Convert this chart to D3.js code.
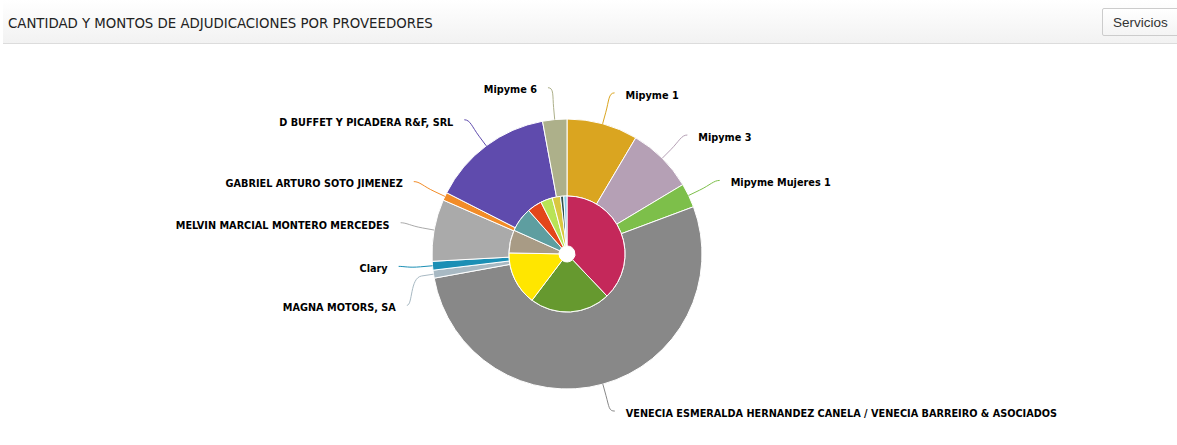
<!DOCTYPE html>
<html>
<head>
<meta charset="utf-8">
<script src="https://cdn.jsdelivr.net/npm/d3@7"></script>
<style>
  body { margin: 0; background: #fff; font-family: "Liberation Sans", Arial, sans-serif; }
  .head {
    position: absolute; left: 3px; top: 0; width: 1174px; height: 43px;
    background: linear-gradient(#ffffff, #f2f2f2);
    border-bottom: 1px solid #dcdcdc;
  }
  .head .title {
    position: absolute; left: 5px; top: 14px; font-size: 14.8px; color: #222;
    font-family: "Liberation Sans Narrow", "Arial Narrow", "DejaVu Sans Condensed", sans-serif;
  }
  .head .btn {
    position: absolute; left: 1099px; top: 8px; width: 90px; height: 28px;
    border: 1px solid #ccc; border-radius: 2px; background: linear-gradient(#ffffff, #f4f4f4);
    font-size: 13.5px; color: #333; line-height: 27px; padding-left: 10px; box-sizing: border-box;
    font-family: "Liberation Sans Narrow", "Arial Narrow", sans-serif;
  }
  svg { position: absolute; left: 0; top: 0; }
</style>
</head>
<body>
<div class="head">
  <div class="title">CANTIDAD Y MONTOS DE ADJUDICACIONES POR PROVEEDORES</div>
  <div class="btn">Servicios</div>
</div>
<svg width="1177" height="445"></svg>
<script>
// outer ring: montos por proveedor (% estimado)
const proveedores = ["Mipyme 1", "Mipyme 3", "Mipyme Mujeres 1",
  "VENECIA ESMERALDA HERNANDEZ CANELA / VENECIA BARREIRO & ASOCIADOS",
  "MAGNA MOTORS, SA", "Clary", "MELVIN MARCIAL MONTERO MERCEDES",
  "GABRIEL ARTURO SOTO JIMENEZ", "D BUFFET Y PICADERA R&F, SRL", "Mipyme 6"];
const montos = [8.5, 7.9, 2.9, 52.8, 0.95, 1.05, 7.4, 0.95, 14.6, 2.9];
const coloresMontos = ["#daa520", "#b5a0b5", "#7dbf4a", "#888888", "#a8b9c3",
  "#1b8fb5", "#aaaaaa", "#f28c28", "#5f4bad", "#adb08a"];

// inner pie: cantidad
const cantidades = [37.9, 22.4, 15.0, 6.4, 6.8, 4.1, 3.3, 2.3, 0.9, 0.9];
const coloresCantidad = ["#c4285a", "#66992f", "#ffe600", "#a89b85", "#5e9ea0",
  "#e3461b", "#b8e356", "#d9c740", "#2f4f4f", "#87ceeb"];

const cx = 567, cy = 254, rOuter = 135, rInner = 58, rHole = 8;
const svg = d3.select("svg");
const g = svg.append("g").attr("transform", `translate(${cx},${cy})`);

const pie = d3.pie().sort(null).value(d => d);
const outerArcs = pie(montos);
const innerArcs = pie(cantidades);

g.selectAll("path.outer").data(outerArcs).join("path")
  .attr("class", "outer")
  .attr("d", d3.arc().innerRadius(rInner).outerRadius(rOuter))
  .attr("fill", (d, i) => coloresMontos[i])
  .attr("stroke", "#fff").attr("stroke-width", 1);

g.selectAll("path.inner").data(innerArcs).join("path")
  .attr("class", "inner")
  .attr("d", d3.arc().innerRadius(rHole).outerRadius(rInner))
  .attr("fill", (d, i) => coloresCantidad[i])
  .attr("stroke", "#fff").attr("stroke-width", 1);

// labels (highcharts style)
const dist = 30, R = rOuter + dist;
const labels = outerArcs.map((d, i) => {
  const a = (d.startAngle + d.endAngle) / 2;
  const side = Math.sin(a) >= 0 ? 1 : -1;
  return {
    name: proveedores[i], color: coloresMontos[i], a, side,
    x: R * Math.sin(a),
    y: -R * Math.cos(a)
  };
});
// bottom-left crowding: MAGNA goes below Clary
const clary = labels[5], magna = labels[4];
if (magna.y - clary.y < 36) {
  magna.y = clary.y + 39;
  magna.x = -Math.sqrt(Math.max(0, R * R - magna.y * magna.y));
}

const conn = g.append("g");
labels.forEach(l => {
  const ex = rOuter * Math.sin(l.a), ey = -rOuter * Math.cos(l.a);
  const bx = (rOuter + 12) * Math.sin(l.a), by = -(rOuter + 12) * Math.cos(l.a);
  const sx = l.x + l.side * 4, sy = l.y - 2;
  const path = d3.path();
  path.moveTo(sx, sy);
  path.bezierCurveTo(l.x - l.side * 2, sy, 2 * bx - ex, 2 * by - ey, bx, by);
  path.lineTo(ex, ey);
  conn.append("path").attr("d", path.toString())
    .attr("fill", "none").attr("stroke", l.color).attr("stroke-width", 1);
});

g.selectAll("text.lbl").data(labels).join("text")
  .attr("class", "lbl")
  .attr("x", d => d.x + d.side * 15)
  .attr("y", d => d.y)
  .attr("dy", "0.35em")
  .attr("text-anchor", d => d.side > 0 ? "start" : "end")
  .attr("font-family", "'DejaVu Sans Condensed', 'DejaVu Sans', sans-serif")
  .attr("font-weight", "bold")
  .attr("font-size", "10.8px")
  .attr("fill", "#000")
  .text(d => d.name);
</script>
</body>
</html>
